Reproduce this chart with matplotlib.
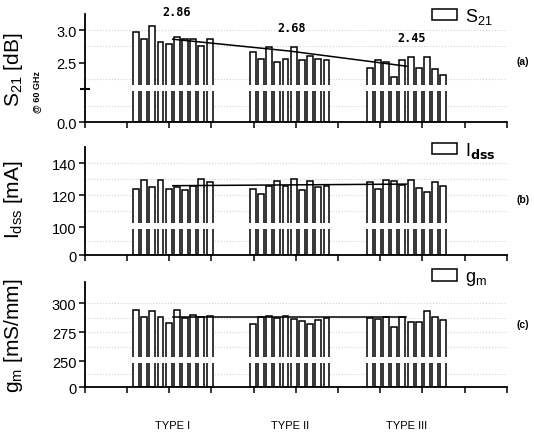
import numpy as np
import matplotlib.pyplot as plt

plt.rcParams['font.family'] = ['Liberation Sans', 'DejaVu Sans']
plt.rcParams['mathtext.default'] = 'regular'

# group names and per-device values (10 devices per type)
types = ['TYPE I', 'TYPE II', 'TYPE III']

s21_1 = [2.97, 2.86, 3.06, 2.82, 2.78, 2.90, 2.87, 2.87, 2.76, 2.87]
s21_2 = [2.66, 2.56, 2.74, 2.51, 2.56, 2.74, 2.54, 2.60, 2.56, 2.54]
s21_3 = [2.43, 2.54, 2.51, 2.28, 2.54, 2.59, 2.43, 2.59, 2.41, 2.32]
s21_mean = [2.86, 2.68, 2.45]

idss_1 = [124, 129.5, 125, 129.5, 124, 125, 123, 125.5, 130, 128]
idss_2 = [124, 121, 126, 129, 125.5, 130, 123, 129, 125, 125.5]
idss_3 = [128, 124, 129.5, 129, 126.5, 129.5, 124.5, 122, 128, 125.5]
idss_mean = [126, 126.5, 127]

gm_1 = [294, 288, 293, 288, 283, 294, 287.5, 290, 288, 289]
gm_2 = [282, 288, 289, 287.5, 289, 286, 284.5, 282, 285.5, 287]
gm_3 = [287, 286, 288, 279, 288, 283.5, 283.5, 293.5, 288, 285]
gm_mean = [288, 288, 288]

group_start = [1.21, 3.98, 6.75]
pitch = 0.194
bar_w = 0.14


def make_scale(brk, lo_px, rate):
    # piecewise linear "broken" axis: 0..brk squeezed, brk..top linear
    def fwd(v):
        v = np.asarray(v, float)
        return np.where(v <= brk, v / brk * lo_px, lo_px + (v - brk) * rate)

    def inv(p):
        p = np.asarray(p, float)
        return np.where(p <= lo_px, p / lo_px * brk, brk + (p - lo_px) / rate)
    return fwd, inv


fig = plt.figure(figsize=(5.34, 4.35), dpi=100)

panels = [
    dict(rect=[0.159, 0.717, 0.790, 0.248], groups=[s21_1, s21_2, s21_3], mean=s21_mean,
         brk=2.1, lo_px=33, rate=66, top=3.24, ticks=[0, 2.5, 3.0], labels=['0.0', '2.5', '3.0'],
         grid=[1.0, 2.25, 2.75, 3.0], leg='S$_{21}$', leg_y=0.961, tag='(a)', tag_y=0.857,
         ylabel='S$_{21}$ [dB]', ylab_y=0.49),
    dict(rect=[0.159, 0.411, 0.790, 0.248], groups=[idss_1, idss_2, idss_3], mean=idss_mean,
         brk=100, lo_px=28, rate=1.6, top=150, ticks=[0, 100, 120, 140], labels=['0', '100', '120', '140'],
         grid=[50, 110, 120, 130, 140], leg='I$_{\\mathbf{dss}}$', leg_y=0.653, tag='(b)', tag_y=0.540,
         ylabel='I$_{dss}$ [mA]', ylab_y=0.52),
    dict(rect=[0.159, 0.108, 0.790, 0.241], groups=[gm_1, gm_2, gm_3], mean=gm_mean,
         brk=250, lo_px=26, rate=1.16, top=318, ticks=[0, 250, 275, 300], labels=['0', '250', '275', '300'],
         grid=[125, 262.5, 275, 287.5, 300], leg='g$_{m}$', leg_y=0.359, tag='(c)', tag_y=0.253,
         ylabel='g$_m$ [mS/mm]', ylab_y=0.50),
]

axes = []
for p in panels:
    ax = fig.add_axes(p['rect'])
    fwd, inv = make_scale(p['brk'], p['lo_px'], p['rate'])
    ax.set_yscale('function', functions=(fwd, inv))
    ax.set_ylim(0, p['top'])
    ax.set_xlim(0, 10)

    for lvl in p['grid']:
        ax.axhline(lvl, color='#d2d2d2', ls=':', lw=0.8, zorder=0)

    first = None
    for g, vals in enumerate(p['groups']):
        xs = group_start[g] + pitch * np.arange(len(vals))
        bc = ax.bar(xs, vals, width=bar_w, color='white', edgecolor='black', lw=1.1, zorder=2)
        if first is None:
            first = bc

    centers = [group_start[g] + pitch * 4.5 for g in range(3)]
    ax.plot(centers, p['mean'], color='black', lw=1.1, zorder=3)

    # white gap through the bars at the axis break
    ax.axhspan(inv(p['lo_px'] - 2), inv(p['lo_px'] + 4), xmin=0.015, xmax=0.99,
               color='white', lw=0, zorder=2.6)

    for s in ['top', 'right']:
        ax.spines[s].set_visible(False)
    ax.spines['left'].set_linewidth(1.3)
    ax.spines['bottom'].set_linewidth(1.3)

    ax.set_yticks(p['ticks'])
    ax.set_yticklabels(p['labels'], fontsize=10.5)
    ax.set_yticks([p['brk']], minor=True)
    ax.tick_params(axis='y', which='major', direction='out', length=4, width=1.1, pad=2)
    ax.tick_params(axis='y', which='minor', direction='inout', length=7, width=1.5)
    ax.set_xticks(range(11))
    ax.set_xticklabels([])
    ax.tick_params(axis='x', direction='out', length=4, width=1.1)

    ax.set_ylabel(p['ylabel'], fontsize=15)
    ax.yaxis.set_label_coords(-0.142, p['ylab_y'])

    ax.legend([first], [p['leg']], loc='center left', bbox_to_anchor=(0.809, p['leg_y']),
              bbox_transform=fig.transFigure, frameon=False, fontsize=13,
              handlelength=1.4, handleheight=0.6, borderpad=0, borderaxespad=0,
              handletextpad=0.4)
    fig.text(0.979, p['tag_y'], p['tag'], fontsize=7.5, fontweight='bold', ha='center', va='center')
    axes.append(ax)

# small "@ 60 GHz" under the S21 label
axes[0].text(-0.115, 0.29, '@ 60 GHz', transform=axes[0].transAxes, rotation=90,
             fontsize=6.5, fontweight='bold', ha='center', va='center')

# mean values above panel (a)
for xm, ym, m in zip([177, 292, 412], [13, 29, 39], s21_mean):
    fig.text(xm / 534, 1 - ym / 435, f'{m:.2f}', fontsize=8.5, fontweight='bold',
             family='DejaVu Sans Mono', ha='center', va='center')

# type names under the bottom panel
for g, name in enumerate(types):
    xc = group_start[g] + pitch * 4.5
    axes[2].text(xc, -0.36, name, transform=axes[2].get_xaxis_transform(),
                 fontsize=8, ha='center', va='center')

fig.savefig('out.png', dpi=100)
